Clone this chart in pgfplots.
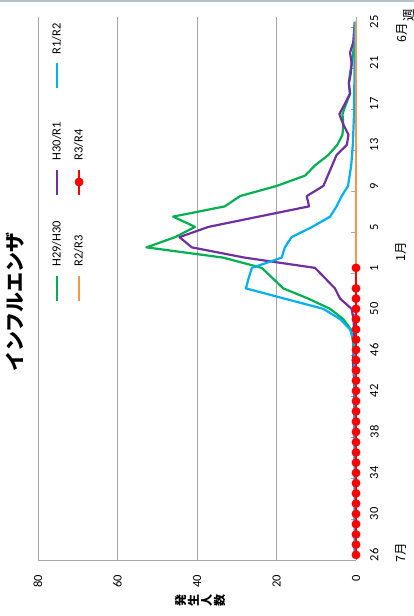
\documentclass[border=0pt]{standalone}
\usepackage{fontspec}
\setmainfont{Carlito}
\newfontfamily\jp{Noto Sans CJK JP}
\usepackage{pgfplots}
\usepackage{pgfplotstable}
\pgfplotsset{compat=1.18}

\definecolor{cgreen}{RGB}{0,176,80}
\definecolor{cpurple}{RGB}{112,48,160}
\definecolor{cblue}{RGB}{0,176,240}
\definecolor{corange}{RGB}{247,150,70}
\definecolor{cred}{RGB}{255,0,0}
\definecolor{cgrid}{RGB}{166,166,166}
\definecolor{cframe}{RGB}{175,195,200}

% week index 0 = week 26 ... 52 = week 25
\pgfplotstableread{
i h29 h30 r1 r2 r3
0 0.3 0.3 0.3 0 0
1 0.2 0.3 0.3 0 0
2 0.2 0.2 0.3 0 0
3 0.3 0.3 0.2 0 0
4 0.2 0.3 0.3 0 0
5 0.3 0.2 0.3 0 0
6 0.2 0.3 0.2 0 0
7 0.3 0.3 0.3 0 0
8 0.2 0.2 0.3 0 0
9 0.3 0.3 0.2 0 0
10 0.3 0.3 0.3 0 0
11 0.2 0.3 0.3 0 0
12 0.3 0.4 0.3 0 0
13 0.4 0.3 0.3 0 0
14 0.3 0.4 0.3 0 0
15 0.4 0.4 0.3 0 0
16 0.5 0.4 0.4 0 0
17 0.4 0.5 0.3 0 0
18 0.5 0.6 0.4 0 0
19 0.6 0.8 0.4 0 0
20 0.6 0.5 0.4 0 0
21 0.8 0.4 0.7 0 0
22 1.3 0.5 1.5 0 0
23 3.2 0.6 4.0 0 0
24 6.5 1.1 8.2 0 0
25 12.0 4.0 18.0 0 0
26 18.3 5.3 27.7 0 0
27 21.0 7.8 27.0 0 nan
28 23.7 10.3 26.2 0 0
29 33.4 28.0 18.7 0 nan
30 52.7 41.3 17.9 0 nan
31 45.5 44.4 16.2 0 nan
32 40.5 37.1 11.0 0 nan
33 46.0 24.5 6.5 0 nan
34 33.0 11.8 4.9 0 nan
35 29.2 12.4 3.6 0 nan
36 19.9 8.2 2.0 0 nan
37 12.8 7.1 1.6 0 nan
38 10.3 6.0 1.2 0 nan
39 7.0 4.9 1.0 0 nan
40 4.7 2.3 0.8 0 nan
41 3.4 1.9 0.7 0 nan
42 3.2 3.2 0.6 0 nan
43 3.4 4.2 0.5 0 nan
44 2.5 2.8 0.5 0 nan
45 1.5 1.5 0.5 0 nan
46 1.8 1.8 0.4 0 nan
47 1.5 1.3 0.4 0 nan
48 1.0 1.1 0.4 0 nan
49 0.7 1.5 0.3 0 nan
50 0.5 0.7 0.3 0 nan
51 0.3 0.5 0.3 0 nan
52 0.2 0.3 0.3 0 nan
}\flu

\begin{document}
\begin{tikzpicture}
\path[use as bounding box] (-356bp,-56bp) rectangle (58bp,560bp);
\draw[cframe, line width=2bp] (-356bp,559bp) -- (58bp,559bp);
% the whole chart is drawn upright and turned a quarter turn
\begin{scope}[transform canvas={rotate=90}]
\begin{axis}[
  at={(0,0)}, anchor=south west,
  scale only axis, width=543.25bp, height=318bp,
  xmin=-0.5, xmax=52.5, ymin=0, ymax=80,
  axis x line*=bottom, axis y line*=left,
  axis line style={cgrid, line width=0.8bp},
  ytick={0,20,...,80}, ymajorgrids,
  grid style={cgrid, line width=0.8bp},
  major tick length=0pt, tick style={cgrid, line width=0.8bp},
  yticklabel style={anchor=east, font=\fontsize{12.5bp}{15bp}\selectfont},
  yticklabel shift=11.5bp,
  xtick={0,4,...,52},
  xticklabels={26,30,34,38,42,46,50,1,5,9,13,17,21,25},
  xticklabel style={anchor=north, font=\fontsize{12.5bp}{15bp}\selectfont},
  xticklabel shift=10.5bp,
  extra x ticks={-0.5,3.5,...,51.5}, extra x tick labels={},
  extra x tick style={major tick length=5bp, tick align=inside},
  /pgf/number format/assume math mode=true,
  clip=false,
  every axis plot/.append style={line width=2.2bp, line join=round},
  legend columns=3,
  legend style={at={(axis cs:24.67,72.45)}, anchor=west, inner sep=0pt,
    draw=none, fill=none, font=\fontsize{12.5bp}{15bp}\selectfont,
    column sep=6bp, row sep=8bp,
    nodes={inner sep=2bp, text width=63bp, align=left}},
  legend image code/.code={\draw[mark repeat=2,mark phase=2,#1] plot coordinates {(0bp,0bp) (12.5bp,0bp) (25bp,0bp)};},
]
\addplot[cgreen] table[x=i, y=h29] {\flu}; \addlegendentry{H29/H30}
\addplot[cpurple] table[x=i, y=h30] {\flu}; \addlegendentry{H30/R1}
\addplot[cblue] table[x=i, y=r1] {\flu}; \addlegendentry{R1/R2}
\addplot[corange] table[x=i, y=r2] {\flu}; \addlegendentry{R2/R3}
\addplot[cred, mark=*, mark size=3.3bp, unbounded coords=discard] table[x=i, y=r3] {\flu}; \addlegendentry{R3/R4}
\end{axis}
\node[font=\jp\bfseries\fontsize{20bp}{24bp}\selectfont] at (258bp,341bp) {インフルエンザ};
\node[align=center, inner sep=0pt, font=\jp\bfseries\fontsize{12bp}{13bp}\selectfont] at (-40bp,156bp) {発\\生\\人\\数};
\node[font=\jp\fontsize{12.5bp}{15bp}\selectfont] at (7bp,-45bp) {7月};
\node[font=\jp\fontsize{12.5bp}{15bp}\selectfont] at (308bp,-45bp) {1月};
\node[font=\jp\fontsize{12.5bp}{15bp}\selectfont] at (527bp,-46bp) {6月};
\node[font=\jp\fontsize{12.5bp}{15bp}\selectfont] at (545bp,-53bp) {週};
\end{scope}
\end{tikzpicture}
\end{document}
